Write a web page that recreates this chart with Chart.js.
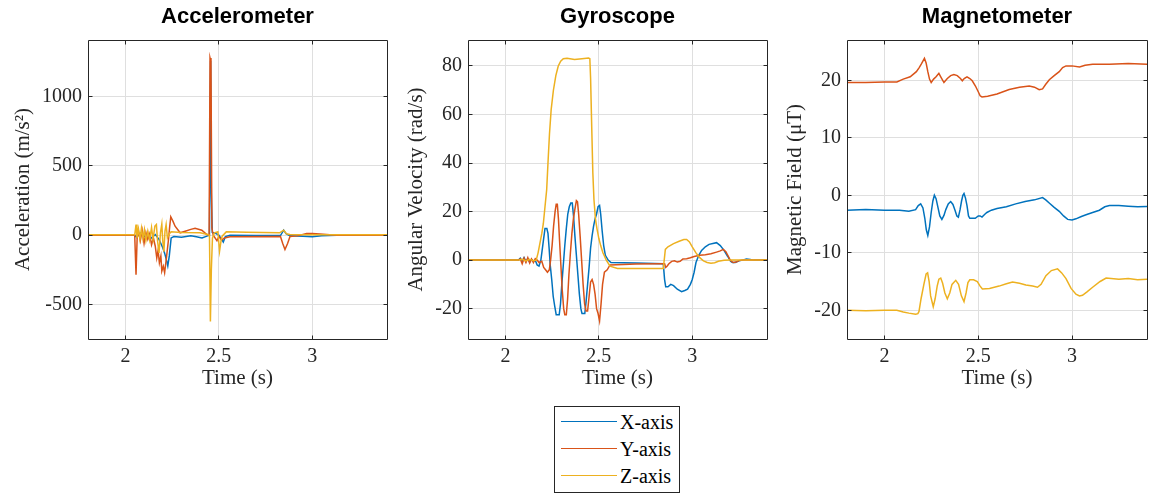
<!DOCTYPE html>
<html>
<head>
<meta charset="utf-8">
<script src="https://cdn.jsdelivr.net/npm/chart.js@4.4.1/dist/chart.umd.min.js"></script>
<style>
  html, body { margin: 0; padding: 0; background: #fff; }
  #page { position: relative; width: 1152px; height: 495px; overflow: hidden; background: #fff; }
  canvas { position: absolute; top: 0; }
  #legend { position: absolute; left: 554px; top: 406px; width: 124px; height: 85px;
            border: 1px solid #262626; background: #fff; font-family: 'Liberation Serif', serif;
            font-size: 20px; color: #000; }
  .row { position: absolute; left: 0; width: 124px; height: 24px; }
  .swatch { position: absolute; left: 6px; top: 11px; width: 56px; height: 0; border-top: 1.5px solid; }
  .name { position: absolute; left: 65px; top: 0; line-height: 24px; white-space: nowrap; }
</style>
</head>
<body>
<div id="page">
  <canvas id="accCanvas" width="390" height="395" style="left:0px"></canvas>
  <canvas id="gyroCanvas" width="380" height="395" style="left:390px"></canvas>
  <canvas id="magCanvas" width="382" height="395" style="left:770px"></canvas>
  <div id="legend"></div>
</div>
<script>
// ---- series names, colours and axis ticks ----
const seriesNames = ['X-axis', 'Y-axis', 'Z-axis'];
const seriesColors = ['#0072BD', '#D95319', '#EDB120'];
const timeTicks = [2, 2.5, 3];
const timeRange = [1.8, 3.4];
const accTicks = [-500, 0, 500, 1000];
const gyroTicks = [-20, 0, 20, 40, 60, 80];
const magTicks = [-20, -10, 0, 10, 20];

// ---- accelerometer samples [time s, m/s^2] ----
const accX = [[1.8,0],[2.05,0],[2.06,-15],[2.08,15],[2.1,-10],[2.12,10],[2.14,-20],[2.16,5],[2.18,-30],[2.19,-60],[2.2,-90],[2.21,-130],[2.22,-180],[2.227,-222],[2.235,-150],[2.245,-20],[2.26,-10],[2.3,-15],[2.35,-5],[2.38,-12],[2.41,-20],[2.44,-5],[2.45,0],[2.456,1260],[2.46,300],[2.465,20],[2.48,15],[2.5,0],[2.515,-30],[2.524,-50],[2.535,-10],[2.56,0],[2.7,-3],[2.83,-3],[2.847,36],[2.86,10],[2.88,-5],[2.95,-8],[3.0,-12],[3.05,-5],[3.13,0],[3.4,0]];
const accY = [[1.8,0],[2.05,0],[2.057,-285],[2.063,-20],[2.07,30],[2.08,-40],[2.09,35],[2.1,-60],[2.11,20],[2.12,-30],[2.13,10],[2.14,-70],[2.15,-20],[2.16,-80],[2.168,-164],[2.175,-110],[2.182,-200],[2.19,-150],[2.195,-260],[2.203,-225],[2.21,-270],[2.22,-160],[2.23,-40],[2.237,60],[2.243,133],[2.255,100],[2.266,65],[2.293,17],[2.32,29],[2.35,42],[2.373,50],[2.409,36],[2.436,5],[2.448,0],[2.453,1280],[2.458,1250],[2.463,50],[2.47,0],[2.49,-40],[2.5,-10],[2.515,-35],[2.53,-20],[2.56,-12],[2.83,-10],[2.842,-60],[2.854,-104],[2.868,-60],[2.881,-10],[2.92,-5],[2.97,12],[3.0,12],[3.04,8],[3.13,0],[3.4,0]];
const accZ = [[1.8,3],[2.05,3],[2.057,77],[2.062,-20],[2.07,45],[2.078,-30],[2.086,50],[2.094,-25],[2.102,40],[2.11,-40],[2.12,30],[2.13,-35],[2.14,55],[2.148,-30],[2.158,65],[2.166,77],[2.172,-40],[2.18,-128],[2.188,20],[2.195,80],[2.2,-40],[2.206,-120],[2.212,30],[2.218,77],[2.225,-20],[2.235,10],[2.245,24],[2.3,20],[2.4,18],[2.44,5],[2.45,0],[2.455,-623],[2.46,-250],[2.466,-20],[2.477,17],[2.495,25],[2.504,-116],[2.512,-40],[2.518,-7],[2.54,24],[2.65,22],[2.825,17],[2.847,36],[2.862,10],[2.88,5],[3.0,3],[3.4,3]];

// ---- gyroscope samples [time s, rad/s] ----
const gyroX = [[1.8,0],[2.07,0],[2.08,0.8],[2.09,-0.5],[2.1,1],[2.11,-0.6],[2.12,0.5],[2.13,-0.8],[2.14,0.3],[2.15,-0.5],[2.16,0],[2.17,-2],[2.18,-2.5],[2.19,0],[2.2,6],[2.205,9],[2.212,13],[2.222,13],[2.228,11],[2.234,5],[2.24,-2],[2.248,-8],[2.256,-15],[2.264,-19],[2.272,-22.5],[2.288,-22.5],[2.295,-18],[2.302,-10],[2.31,-2],[2.318,6],[2.326,13],[2.334,19],[2.342,22],[2.35,23.5],[2.358,23.5],[2.365,18],[2.372,10],[2.38,2],[2.388,-6],[2.396,-14],[2.404,-20],[2.41,-22],[2.425,-22],[2.432,-17],[2.44,-10],[2.448,-3],[2.456,5],[2.464,10],[2.472,14],[2.48,17],[2.488,19],[2.496,22],[2.504,22.5],[2.51,19],[2.518,12],[2.526,6],[2.535,2],[2.55,0],[2.565,-1],[2.7,-1.2],[2.845,-1.5],[2.852,-8],[2.858,-11],[2.87,-11],[2.885,-10],[2.9,-10.5],[2.92,-12],[2.943,-13],[2.96,-12.5],[2.975,-12],[2.99,-10],[3.0,-8],[3.01,-5],[3.02,-1],[3.035,2],[3.05,4],[3.07,5.5],[3.09,6.5],[3.13,7.2],[3.15,6],[3.17,4],[3.19,1.5],[3.205,-0.5],[3.215,-1],[3.23,-1],[3.25,-0.3],[3.27,0],[3.29,0.5],[3.31,0.3],[3.33,0],[3.4,0]];
const gyroY = [[1.8,0],[2.07,0],[2.08,0.5],[2.09,-1.5],[2.1,0.8],[2.11,-1],[2.12,1],[2.13,-1.2],[2.14,0.5],[2.15,-1],[2.16,0.6],[2.17,0],[2.18,-1],[2.195,-0.5],[2.205,-3],[2.215,-4],[2.225,-5],[2.235,-4],[2.242,0],[2.25,6],[2.258,14],[2.266,20],[2.272,23],[2.278,23],[2.284,17],[2.29,8],[2.297,-2],[2.304,-12],[2.312,-20],[2.318,-22.5],[2.326,-22.5],[2.333,-16],[2.34,-6],[2.348,3],[2.356,11],[2.364,17],[2.372,21],[2.38,24.5],[2.386,24],[2.392,19],[2.4,10],[2.408,0],[2.416,-10],[2.424,-18],[2.432,-21],[2.44,-21],[2.448,-15],[2.456,-9],[2.464,-8],[2.472,-10],[2.48,-14],[2.488,-20],[2.496,-22],[2.504,-25],[2.512,-18],[2.52,-10],[2.53,-5],[2.545,-4],[2.56,-2],[2.7,-1.6],[2.845,-1.5],[2.852,-1.5],[2.858,-3],[2.865,-2.5],[2.875,-1.5],[2.89,-0.5],[2.905,-0.3],[2.92,-0.8],[2.935,-0.5],[2.95,0.5],[2.97,0.6],[2.99,1],[3.01,1.5],[3.04,2],[3.07,2.2],[3.1,2.6],[3.13,3.3],[3.15,3.8],[3.166,4.4],[3.18,3.5],[3.19,2],[3.2,0.5],[3.21,-0.5],[3.22,-1],[3.235,-0.8],[3.25,-0.2],[3.27,0],[3.4,0]];
const gyroZ = [[1.8,0],[2.07,0],[2.09,0.3],[2.11,-0.3],[2.13,0.3],[2.15,-0.2],[2.165,0],[2.175,3],[2.185,7],[2.195,11],[2.203,15],[2.212,22],[2.221,29],[2.228,40],[2.236,52],[2.245,62],[2.257,70],[2.27,76],[2.283,80],[2.296,82],[2.31,83],[2.33,83.2],[2.37,82.7],[2.41,83],[2.445,83.3],[2.452,83],[2.456,75],[2.462,55],[2.468,36],[2.474,25],[2.482,17],[2.49,13],[2.5,9],[2.51,6],[2.522,3],[2.54,0],[2.56,-2.5],[2.6,-3.4],[2.845,-3.5],[2.85,0],[2.856,4.4],[2.87,5.5],[2.9,6.8],[2.93,7.8],[2.955,8.5],[2.97,8.5],[2.985,7.5],[3.0,5.5],[3.02,3],[3.04,1],[3.06,-0.3],[3.08,-1],[3.1,-1.3],[3.12,-1.1],[3.14,-0.5],[3.17,-0.1],[3.2,0],[3.4,0]];

// ---- magnetometer samples [time s, uT] ----
const magX = [[1.8,-2.6],[1.9,-2.5],[2.0,-2.6],[2.08,-2.6],[2.13,-2.8],[2.166,-2.5],[2.18,-1.8],[2.193,-1.5],[2.205,-2.2],[2.215,-4],[2.223,-6],[2.231,-7],[2.24,-5.5],[2.249,-3],[2.258,-1],[2.266,0],[2.275,-0.6],[2.283,-1.8],[2.295,-3.6],[2.306,-4.2],[2.317,-3.5],[2.327,-2.5],[2.34,-1.5],[2.353,-1.1],[2.365,-1.6],[2.376,-2.6],[2.386,-3.6],[2.394,-3.8],[2.403,-2.5],[2.411,-1],[2.418,0],[2.424,0.3],[2.432,-0.5],[2.44,-1.8],[2.448,-3.6],[2.455,-4],[2.484,-4],[2.5,-3.6],[2.51,-3.6],[2.52,-3.8],[2.535,-3.3],[2.546,-3],[2.57,-2.6],[2.6,-2.3],[2.65,-2],[2.7,-1.5],[2.75,-1.1],[2.8,-0.8],[2.843,-0.4],[2.86,-0.8],[2.88,-1.4],[2.905,-2.1],[2.932,-2.8],[2.955,-3.6],[2.977,-4.2],[3.0,-4.3],[3.021,-4.1],[3.05,-3.7],[3.075,-3.4],[3.11,-3.0],[3.146,-2.6],[3.175,-2.0],[3.2,-1.8],[3.25,-1.8],[3.3,-1.9],[3.35,-2.0],[3.4,-1.95]];
const magY = [[1.8,19.6],[1.9,19.6],[2.0,19.7],[2.066,19.7],[2.1,20.2],[2.137,20.6],[2.17,21.5],[2.185,22.2],[2.196,22.8],[2.213,23.8],[2.222,23],[2.231,21.5],[2.24,20.2],[2.249,19.6],[2.262,20.2],[2.275,20.6],[2.29,21.2],[2.3,20.6],[2.317,19.6],[2.335,20.3],[2.353,20.8],[2.37,21],[2.388,20.8],[2.405,20.3],[2.415,19.9],[2.425,20.3],[2.44,20.6],[2.455,20.3],[2.468,19.9],[2.485,19],[2.5,18],[2.51,17.3],[2.52,17.1],[2.55,17.2],[2.6,17.6],[2.665,18.4],[2.72,18.8],[2.772,19.0],[2.8,18.8],[2.825,18.35],[2.843,18.5],[2.86,19.3],[2.879,20.1],[2.905,20.8],[2.932,21.5],[2.95,22.2],[2.968,22.5],[3.0,22.5],[3.04,22.3],[3.07,22.6],[3.11,22.8],[3.2,22.8],[3.3,22.9],[3.4,22.8]];
const magZ = [[1.8,-20],[1.9,-20.1],[2.0,-20],[2.066,-20],[2.1,-20.3],[2.13,-20.5],[2.166,-20.7],[2.178,-20.6],[2.184,-20.2],[2.195,-18],[2.21,-15.5],[2.222,-13.7],[2.23,-13.5],[2.238,-15],[2.246,-17.5],[2.26,-19.4],[2.27,-18],[2.281,-15.8],[2.29,-14.6],[2.3,-14.4],[2.31,-15.3],[2.322,-17],[2.335,-18],[2.348,-17],[2.36,-15.5],[2.38,-14.8],[2.395,-15.5],[2.41,-17.5],[2.424,-18.5],[2.435,-17],[2.445,-15.2],[2.455,-14.7],[2.475,-14.7],[2.495,-15],[2.51,-15.8],[2.522,-16.3],[2.56,-16.2],[2.611,-15.8],[2.65,-15.4],[2.683,-15.1],[2.72,-15.3],[2.754,-15.6],[2.79,-15.8],[2.816,-16],[2.835,-15.5],[2.861,-14],[2.89,-13.1],[2.923,-12.8],[2.945,-13.5],[2.968,-14.5],[2.995,-16.2],[3.021,-17.2],[3.04,-17.5],[3.056,-17.4],[3.08,-16.8],[3.11,-16],[3.15,-15],[3.182,-14.4],[3.25,-14.6],[3.3,-14.5],[3.35,-14.7],[3.4,-14.6]];

// ---- panel setup ----
const panels = [
  { canvas: 'accCanvas', title: 'Accelerometer', yLabel: 'Acceleration (m/s²)',
    series: [accX, accY, accZ], yTicks: accTicks, yMin: -750, yMax: 1410,
    yAxisWidth: 88, yTitlePad: 10.4, rightPad: 3 },
  { canvas: 'gyroCanvas', title: 'Gyroscope', yLabel: 'Angular Velocity (rad/s)',
    series: [gyroX, gyroY, gyroZ], yTicks: gyroTicks, yMin: -32.5, yMax: 90.7,
    yAxisWidth: 78, yTitlePad: 14.1, rightPad: 3 },
  { canvas: 'magCanvas', title: 'Magnetometer', yLabel: 'Magnetic Field (μT)',
    series: [magX, magY, magZ], yTicks: magTicks, yMin: -25, yMax: 27,
    yAxisWidth: 77, yTitlePad: 12.4, rightPad: 5 }
];

const AXIS_COLOR = '#262626';
const GRID_COLOR = '#dfdfdf';
const TICK_LEN = 4;

// Axes box with inward tick marks on all four sides
const frameBox = {
  id: 'frameBox',
  afterDatasetsDraw(chart) {
    const { ctx, chartArea: a, scales: { x, y } } = chart;
    const al = p => Math.round(p - 0.5) + 0.5;
    const L = al(a.left), R = al(a.right), T = al(a.top), B = al(a.bottom);
    ctx.save();
    ctx.strokeStyle = AXIS_COLOR;
    ctx.lineWidth = 1;
    ctx.beginPath();
    ctx.rect(L, T, R - L, B - T);
    x.ticks.forEach(t => {
      const px = al(x.getPixelForValue(t.value));
      ctx.moveTo(px, B); ctx.lineTo(px, B - TICK_LEN);
      ctx.moveTo(px, T); ctx.lineTo(px, T + TICK_LEN);
    });
    y.ticks.forEach(t => {
      const py = al(y.getPixelForValue(t.value));
      ctx.moveTo(L, py); ctx.lineTo(L + TICK_LEN, py);
      ctx.moveTo(R, py); ctx.lineTo(R - TICK_LEN, py);
    });
    ctx.stroke();
    ctx.restore();
  }
};

Chart.defaults.font.family = "'Liberation Serif', serif";

panels.forEach(p => {
  new Chart(document.getElementById(p.canvas), {
    type: 'line',
    data: {
      datasets: p.series.map((d, i) => ({
        label: seriesNames[i],
        data: d,
        borderColor: seriesColors[i],
        backgroundColor: seriesColors[i],
        borderWidth: 1.5,
        pointRadius: 0,
        tension: 0,
        fill: false,
        order: 2 - i
      }))
    },
    options: {
      responsive: false,
      animation: false,
      events: [],
      layout: { padding: { left: 0, right: p.rightPad, top: 0, bottom: 0 } },
      plugins: {
        legend: { display: false },
        tooltip: { enabled: false },
        title: {
          display: true, text: p.title, fullSize: false, color: '#000',
          font: { family: "'Liberation Sans', sans-serif", size: 22, weight: 'bold', lineHeight: 1.2 },
          padding: { top: 3.5, bottom: 10.1 }
        }
      },
      scales: {
        x: {
          type: 'linear', min: timeRange[0], max: timeRange[1],
          afterBuildTicks: s => { s.ticks = timeTicks.map(v => ({ value: v })); },
          afterFit: s => { s.height = 56; },
          grid: { color: GRID_COLOR, lineWidth: 1, drawTicks: false },
          border: { display: false },
          ticks: { padding: 6, color: AXIS_COLOR, font: { size: 20 }, maxRotation: 0, autoSkip: false,
                   callback: v => String(v) },
          title: { display: true, text: 'Time (s)', color: AXIS_COLOR,
                   font: { size: 21, lineHeight: 1.2 }, padding: { top: 0, bottom: 4.4 } }
        },
        y: {
          type: 'linear', min: p.yMin, max: p.yMax,
          afterBuildTicks: s => { s.ticks = p.yTicks.map(v => ({ value: v })); },
          afterFit: s => { s.width = p.yAxisWidth; },
          grid: { color: GRID_COLOR, lineWidth: 1, drawTicks: false },
          border: { display: false },
          ticks: { padding: 6, color: AXIS_COLOR, font: { size: 20 }, autoSkip: false,
                   callback: v => String(v) },
          title: { display: true, text: p.yLabel, color: AXIS_COLOR,
                   font: { size: 21, lineHeight: 1.2 }, padding: { top: p.yTitlePad, bottom: 0 } }
        }
      }
    },
    plugins: [frameBox]
  });
});

// Legend box listing the three axes
const legend = document.getElementById('legend');
const rowCentres = [15, 42, 69];
seriesNames.forEach((name, i) => {
  const row = document.createElement('div');
  row.className = 'row';
  row.style.top = (rowCentres[i] - 12) + 'px';
  const sw = document.createElement('div');
  sw.className = 'swatch';
  sw.style.borderTopColor = seriesColors[i];
  const tx = document.createElement('span');
  tx.className = 'name';
  tx.textContent = name;
  row.appendChild(sw);
  row.appendChild(tx);
  legend.appendChild(row);
});
</script>
</body>
</html>
